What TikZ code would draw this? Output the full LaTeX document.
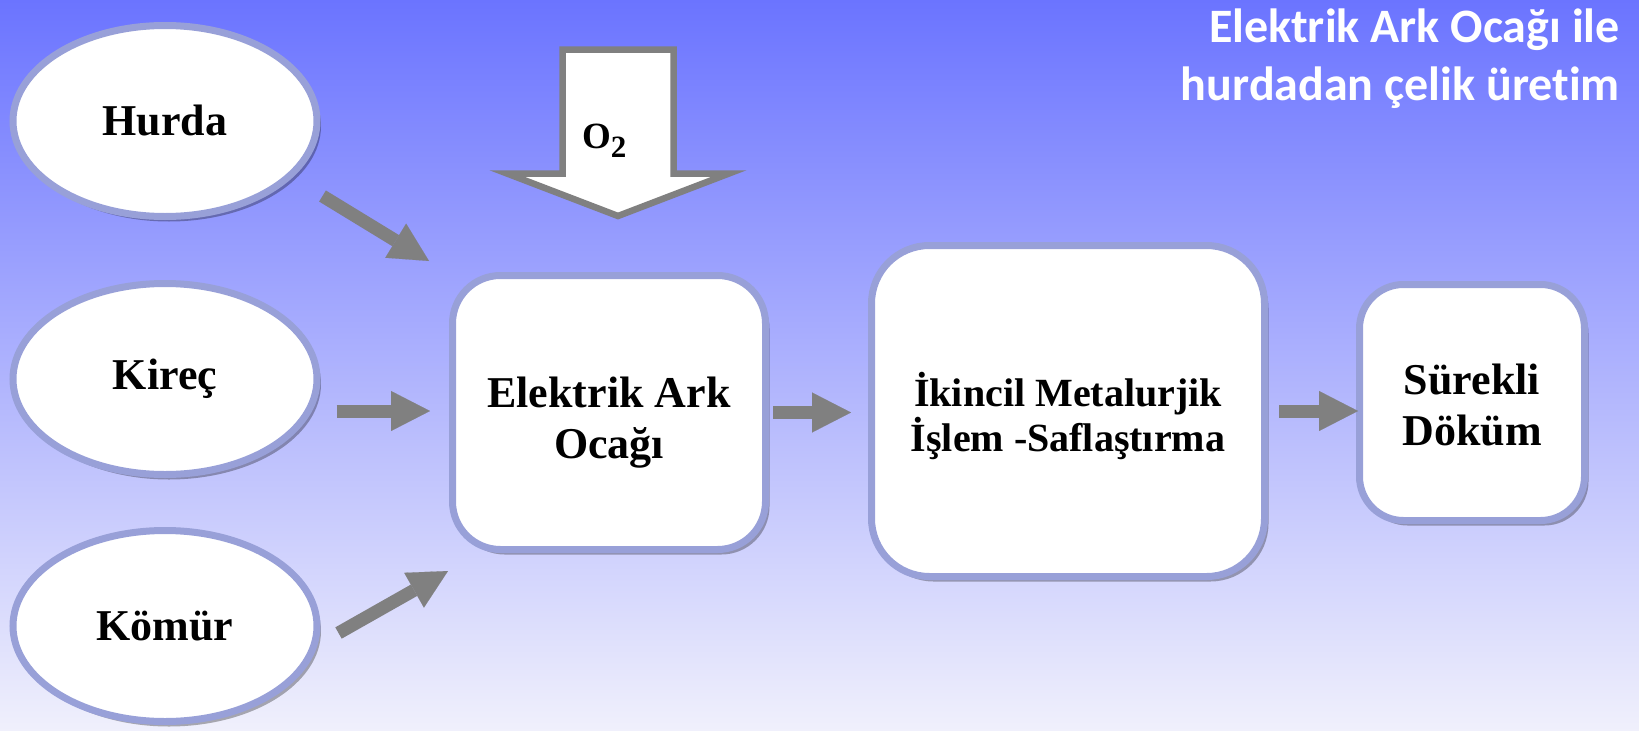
\documentclass[tikz,border=0pt]{standalone}
\usepackage{fontspec}
\setmainfont{Liberation Serif}
\newfontfamily\titlefont{Carlito}[Ligatures={NoCommon,NoContextual}]
\usetikzlibrary{shapes.geometric, arrows.meta, shadows}

\definecolor{bgtop}{RGB}{107,116,255}
\definecolor{bgbottom}{RGB}{240,240,252}
\definecolor{rim}{RGB}{152,160,216}
\definecolor{flowgray}{RGB}{128,128,128}

% invisible strut that pushes a first line down
\newcommand{\firstline}[1]{\rule{0pt}{#1}}

\tikzset{
  soft shadow/.style={general shadow={shadow xshift=4pt, shadow yshift=-5pt,
      fill=black, opacity=0.3}},
  source/.style={ellipse, draw=rim, line width=7pt, fill=white, inner sep=0pt,
      minimum width=304pt, minimum height=191pt, soft shadow,
      font=\fontsize{44}{50}\selectfont\bfseries},
  stage/.style={rectangle, rounded corners=#1, draw=rim, line width=7pt,
      fill=white, inner sep=0pt, align=center, soft shadow,
      font=\fontsize{44}{51}\selectfont\bfseries},
  stage/.default=48pt,
  flow/.style={draw=flowgray, line width=13pt,
      -{Triangle[length=39pt, width=40pt, line width=0.1pt]}},
}

\begin{document}
\begin{tikzpicture}[x=1pt, y=-1pt]
  % backdrop
  \shade[top color=bgtop, bottom color=bgbottom] (0,0) rectangle (1639,731);
  \useasboundingbox (0,0) rectangle (1639,731);

  % heading
  \node[anchor=north east, align=right, inner sep=0pt, text=white,
        font=\titlefont\bfseries\fontsize{48}{58}\selectfont] (title)
        at (1620,9) {Elektrik Ark Ocağı ile\\hurdadan çelik üretim};

  % raw materials
  \node[source] (hurda) at (165,121) {Hurda};
  \node[source] (kirec) at (165,379) {Kireç};
  \node[source] (komur) at (165,626) {Kömür};

  % process stages
  \node[stage=48pt, minimum width=313pt, minimum height=274pt] (eao)
        at (609,412.5) {\firstline{50pt}Elektrik Ark\\Ocağı};
  \node[stage=58pt, minimum width=393pt, minimum height=331pt,
        font=\fontsize{40}{45}\selectfont\bfseries] (ikincil)
        at (1068,411) {\firstline{45pt}İkincil Metalurjik\\İşlem -Saflaştırma};
  \node[stage=44pt, minimum width=225pt, minimum height=236pt] (surekli)
        at (1472,402.5) {\firstline{36pt}Sürekli\\Döküm};

  % oxygen feed: hollow block arrow
  \draw[draw=flowgray, fill=white, line width=6.5pt]
        (562.5,49.5) -- (673.5,49.5) -- (673.5,173.5) -- (729,173.5)
        -- (618,216) -- (507,173.5) -- (562.5,173.5) -- cycle;
  \node[anchor=base west, inner sep=0pt,
        font=\fontsize{37}{45}\selectfont\bfseries] (o2)
        at (582,148) {O\raisebox{-9pt}{\fontsize{31}{31}\selectfont 2}};

  % material flow
  \draw[flow] ([shift={(2,75)}]hurda.east) -- ([shift={(-20,-11)}]eao.north west);
  \draw[flow] ([shift={(16,32)}]kirec.east) -- ([shift={(-19,-1.5)}]eao.west);
  \draw[flow] ([shift={(18,7)}]komur.east) -- ([shift={(-1,18)}]eao.south west);
  \draw[flow, shorten <=4pt, shorten >=17pt] (eao.east) -- (eao.east -| ikincil.west);
  \draw[flow, shorten <=11pt, shorten >=-2pt] (ikincil.east) -- (ikincil.east -| surekli.west);
\end{tikzpicture}
\end{document}
